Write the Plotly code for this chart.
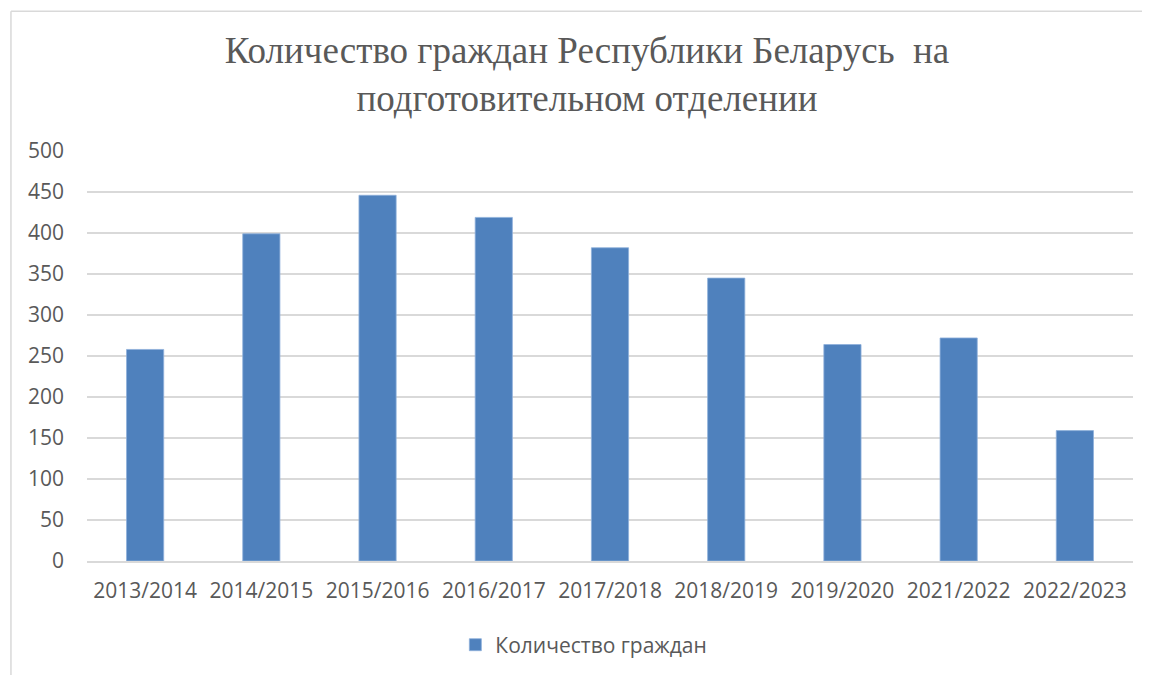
import plotly.graph_objects as go

categories = ["2013/2014", "2014/2015", "2015/2016", "2016/2017", "2017/2018",
              "2018/2019", "2019/2020", "2021/2022", "2022/2023"]
values = [258, 399, 446, 419, 382, 345, 264, 272, 159]
series_name = "Количество граждан"
title_text = "Количество граждан Республики Беларусь  на<br>подготовительном отделении"

fig = go.Figure()
fig.add_trace(go.Bar(x=categories, y=values, name=series_name,
                     marker=dict(color="#4f81bd", line=dict(color="#8eb0da", width=0.8))))

fig.update_layout(
    width=1150, height=675,
    margin=dict(l=79, r=25, t=143, b=122),
    paper_bgcolor="white", plot_bgcolor="white",
    bargap=0.68,
    showlegend=True,
    title=dict(text=title_text, x=0.5035, xanchor="center", y=0.918, yanchor="middle",
               font=dict(family="Liberation Serif", size=37, color="#595959")),
    legend=dict(orientation="h", x=0.475, xanchor="center", y=-0.205, yanchor="middle",
                font=dict(family="Open Sans", size=21, color="#595959")),
    xaxis=dict(showgrid=False, showline=True, linecolor="#d9d9d9", linewidth=1.5,
               ticks="", ticklabelstandoff=10,
               tickfont=dict(family="Open Sans", size=21, color="#595959")),
    yaxis=dict(range=[0, 500], dtick=50, showgrid=True, gridcolor="#d9d9d9", gridwidth=1.5,
               zeroline=False, ticks="", ticklabelstandoff=22,
               tickfont=dict(family="Open Sans", size=21, color="#595959")),
)
# chart border
fig.add_shape(type="line", xref="paper", yref="paper", x0=-0.0727, x1=-0.0727, y0=-0.3, y1=1.341,
              line=dict(color="#d9d9d9", width=1.5))
fig.add_shape(type="line", xref="paper", yref="paper", x0=-0.0727, x1=1.03, y0=1.341, y1=1.341,
              line=dict(color="#d9d9d9", width=1.5))

fig.write_html("out.html")
